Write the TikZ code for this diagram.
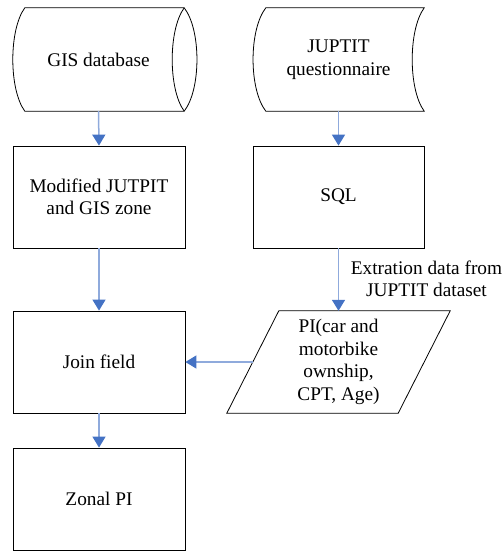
\documentclass[tikz,border=0pt]{standalone}
\usepackage{fontspec}
\setmainfont{Liberation Serif}
\usetikzlibrary{arrows.meta,calc}
\definecolor{flowline}{RGB}{143,170,220}
\definecolor{flowhead}{RGB}{68,114,196}
\tikzset{
  every node/.style={font=\fontsize{19.3}{22.5}\selectfont, align=center, inner sep=0pt},
  procbox/.style={draw=black, line width=0.8pt, minimum width=172pt, minimum height=102pt},
  sidebox/.style={draw=black, line width=0.8pt, minimum width=171pt, minimum height=102pt},
  shapebox/.style={minimum width=171pt, minimum height=103pt},
  outline/.style={draw=black, line width=0.8pt, line join=miter},
  flow/.style={draw=flowline, line width=1.5pt,
    -{Triangle[length=11pt,width=13pt,color=flowhead]}},
}
\begin{document}
\begin{tikzpicture}[x=1pt,y=-1pt]
\useasboundingbox (0,0) rectangle (501,551);

% stored data inputs
\node[shapebox] (gis) at (98.5,59.5) {GIS database};
\draw[outline] ([xshift=12pt]gis.north west) -- (gis.north east)
  .. controls +(17,22) and +(17,-22) .. (gis.south east)
  -- ([xshift=12pt]gis.south west)
  .. controls +(-16,-22) and +(-16,22) .. ([xshift=12pt]gis.north west) -- cycle;
\draw[outline] (gis.north east) .. controls +(-16,22) and +(-16,-22) .. (gis.south east);

\node[shapebox] (jup) at (338.5,59.5) {JUPTIT\\questionnaire};
\draw[outline] ([xshift=13pt]jup.north west) -- (jup.north east)
  .. controls +(-16,22) and +(-16,-22) .. (jup.south east)
  -- ([xshift=13pt]jup.south west)
  .. controls +(-17,-22) and +(-17,22) .. ([xshift=13pt]jup.north west) -- cycle;

% processes
\node[procbox] (mod) at (99,197) {Modified JUTPIT\\and GIS zone};
\node[sidebox] (sql) at (338.5,197) {SQL};
\node[procbox] (join) at (99,362) {Join field};
\node[procbox] (zonal) at (99,499) {Zonal PI};

% data (parallelogram)
\node[shapebox, minimum height=102pt] (pi) at (338.5,362) {PI(car and\\motorbike\\ownship,\\CPT, Age)};
\draw[outline] ([xshift=26pt]pi.north west) -- ([xshift=26pt]pi.north east)
  -- ([xshift=-26pt]pi.south east) -- ([xshift=-26pt]pi.south west) -- cycle;

% connectors
\draw[flow] (gis.south) -- (mod.north);
\draw[flow] (jup.south) -- (sql.north);
\draw[flow] (mod.south) -- (join.north);
\draw[flow] (sql.south) -- (pi.north);
\draw[flow] (pi.west) -- (join.east);
\draw[flow] (join.south) -- (zonal.north);

\node (lbl) at (426.5,279) {Extration data from\\JUPTIT dataset};
\end{tikzpicture}
\end{document}
